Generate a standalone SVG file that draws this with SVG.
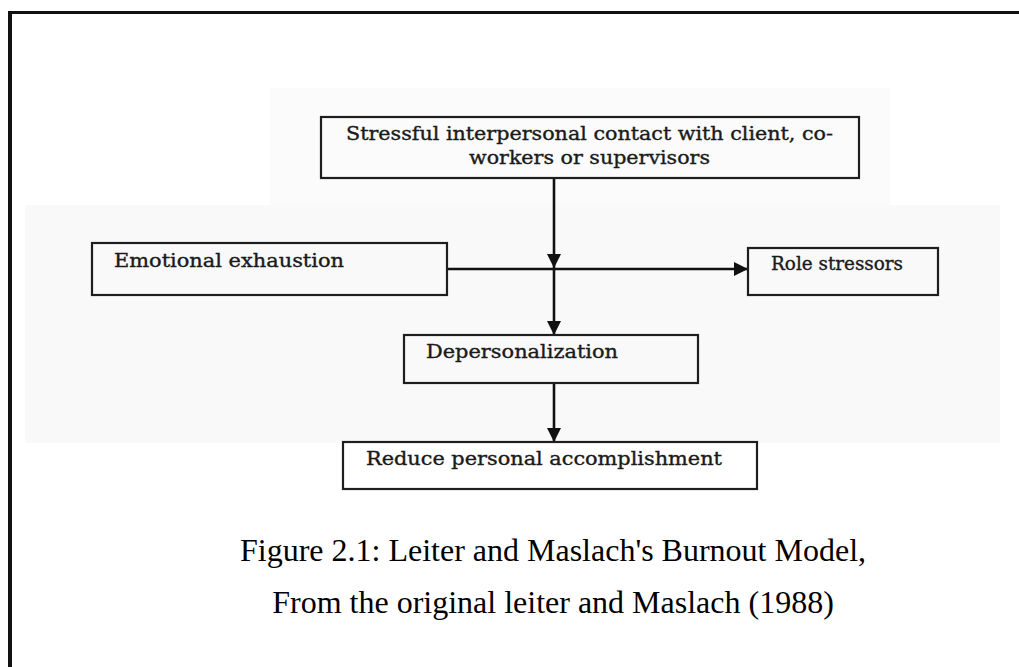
<svg xmlns="http://www.w3.org/2000/svg" width="1019" height="667" viewBox="0 0 1019 667">
<style>
.box{fill:none;stroke:#1e1e1e;stroke-width:2.2}
.lbl{font-family:"DejaVu Serif","Liberation Serif",serif;font-size:18px;fill:#1a1a1a;stroke:#1a1a1a;stroke-width:0.35}
.cap{font-family:"Liberation Serif","Times New Roman",serif;font-size:32px;fill:#000;text-anchor:middle}
.conn{stroke:#111;stroke-width:2.6;fill:none}
</style>
<defs>
<marker id="arr" markerUnits="userSpaceOnUse" markerWidth="16" markerHeight="14" refX="14" refY="7" orient="auto">
<path d="M0,0 L14,7 L0,14 Z" fill="#111"/>
</marker>
</defs>
<rect width="1019" height="667" fill="#ffffff"/>
<g id="background-tint">
<rect x="25" y="205" width="975" height="238" fill="#f9f9f9"/>
<rect x="270" y="88" width="620" height="117" fill="#fbfbfb"/>
</g>
<g id="frame">
<line x1="10" y1="11" x2="10" y2="667" stroke="#111" stroke-width="4"/>
<line x1="8" y1="12.5" x2="1019" y2="12.5" stroke="#111" stroke-width="3"/>
</g>
<g id="connectors">
<line class="conn" x1="554" y1="178" x2="554" y2="268" marker-end="url(#arr)"/>
<line class="conn" x1="554" y1="268" x2="554" y2="335" marker-end="url(#arr)"/>
<line class="conn" x1="447" y1="269" x2="748" y2="269" marker-end="url(#arr)"/>
<line class="conn" x1="554" y1="383" x2="554" y2="442" marker-end="url(#arr)"/>
</g>
<g id="node-stressful">
<rect class="box" x="321" y="117" width="538" height="61"/>
<text class="lbl" x="346" y="140" textLength="487" lengthAdjust="spacingAndGlyphs">Stressful interpersonal contact with client, co-</text>
<text class="lbl" x="469" y="164" textLength="241" lengthAdjust="spacingAndGlyphs">workers or supervisors</text>
</g>
<g id="node-emotional">
<rect class="box" x="92" y="243" width="355" height="52"/>
<text class="lbl" x="114" y="267" textLength="230" lengthAdjust="spacingAndGlyphs">Emotional exhaustion</text>
</g>
<g id="node-role">
<rect class="box" x="748" y="248" width="190" height="47"/>
<text class="lbl" x="771" y="270" textLength="132" lengthAdjust="spacingAndGlyphs">Role stressors</text>
</g>
<g id="node-depersonalization">
<rect class="box" x="404" y="335" width="294" height="48"/>
<text class="lbl" x="426" y="358" textLength="192" lengthAdjust="spacingAndGlyphs">Depersonalization</text>
</g>
<g id="node-reduce">
<rect class="box" x="343" y="442" width="414" height="47"/>
<text class="lbl" x="366" y="465" textLength="356" lengthAdjust="spacingAndGlyphs">Reduce personal accomplishment</text>
</g>
<g id="caption">
<text class="cap" x="553" y="561">Figure 2.1: Leiter and Maslach's Burnout Model,</text>
<text class="cap" x="553" y="613">From the original leiter and Maslach (1988)</text>
</g>
</svg>
